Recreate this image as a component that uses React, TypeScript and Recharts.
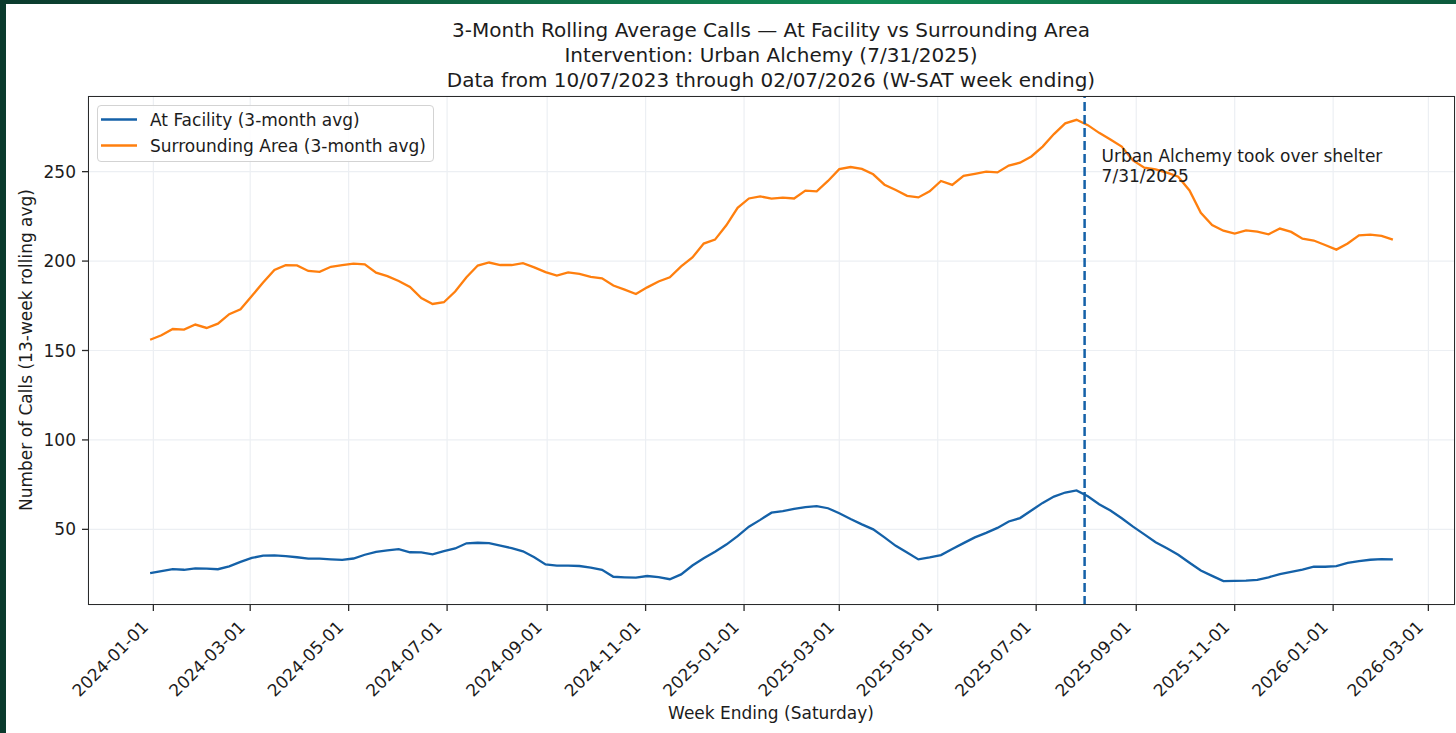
import { CartesianGrid, Line, LineChart, ReferenceLine, XAxis, YAxis } from "recharts";

// weekly 13-week rolling averages, week ending Saturday, first full window 2023-12-30
const firstWeekEnding = "2023-12-30";

const atFacility = [
  25.5, 26.7, 27.8, 27.4, 28.2, 28.0, 27.7, 29.3, 31.8, 34.0,
  35.3, 35.5, 35.0, 34.4, 33.6, 33.6, 33.2, 32.9, 33.7, 35.8,
  37.4, 38.2, 38.9, 37.2, 37.1, 36.0, 37.8, 39.3, 42.2, 42.5,
  42.3, 40.9, 39.5, 37.7, 34.4, 30.4, 29.7, 29.7, 29.5, 28.6,
  27.4, 23.5, 23.2, 23.0, 23.9, 23.3, 22.1, 24.8, 29.8, 33.8,
  37.5, 41.5, 46.2, 51.5, 55.3, 59.3, 60.2, 61.4, 62.4, 63.0,
  61.8, 59.0, 55.8, 52.8, 50.0, 45.5, 40.8, 37.0, 33.2, 34.3,
  35.6, 39.0, 42.3, 45.5, 48.0, 50.8, 54.4, 56.3, 60.5, 64.8,
  68.3, 70.6, 71.8, 68.5, 64.0, 60.5, 56.2, 51.5, 47.2, 42.8,
  39.4, 35.8, 31.3, 27.0, 24.0, 21.1, 21.2, 21.3, 21.8, 23.2,
  25.0, 26.2, 27.5, 29.1, 29.1, 29.4, 31.2, 32.2, 33.0, 33.3,
  33.2,
];

const surrounding = [
  156.0, 158.5, 162.0, 161.7, 164.5, 162.6, 165.0, 170.3, 173.0, 180.5,
  188.0, 195.0, 197.7, 197.6, 194.5, 194.0, 196.8, 197.7, 198.6, 198.2,
  193.5, 191.6, 188.9, 185.5, 179.3, 176.0, 177.0, 183.0, 191.0, 197.5,
  199.2, 197.8, 197.8, 198.8, 196.5, 193.8, 191.9, 193.7, 192.9, 191.2,
  190.4, 186.3, 184.0, 181.6, 185.3, 188.6, 190.9, 197.0, 202.0, 209.8,
  212.0, 220.0, 229.8, 235.0, 236.2, 234.9, 235.5, 235.0, 239.4, 239.0,
  244.8, 251.4, 252.6, 251.5, 248.5, 242.7, 239.7, 236.5, 235.6, 239.0,
  244.8, 242.6, 247.6, 248.8, 250.0, 249.6, 253.4, 255.0, 258.5, 264.0,
  271.0, 277.0, 279.0, 276.0, 271.7, 268.0, 264.0, 256.3, 252.2, 251.3,
  249.5, 247.2, 239.5, 227.0, 220.2, 217.0, 215.4, 217.2, 216.5, 215.0,
  218.2, 216.3, 212.5, 211.5, 209.0, 206.4, 209.8, 214.4, 214.8, 214.1,
  212.0,
];

const xTickLabels = [
  "2024-01-01", "2024-03-01", "2024-05-01", "2024-07-01", "2024-09-01",
  "2024-11-01", "2025-01-01", "2025-03-01", "2025-05-01", "2025-07-01",
  "2025-09-01", "2025-11-01", "2026-01-01", "2026-03-01",
];
const yTicks = [50, 100, 150, 200, 250];
const interventionDate = "2025-07-31";

const DAY = 86400000;
const toTime = (s: string) => Date.parse(s + "T00:00:00Z");
const fmtDate = (t: number) => new Date(t).toISOString().slice(0, 10);

const start = toTime(firstWeekEnding);
const rows = atFacility.map((v, i) => ({
  t: start + i * 7 * DAY,
  facility: v,
  area: surrounding[i],
}));

const xTicks = xTickLabels.map(toTime);
const origin = toTime("2024-01-01");
const xDomain = [origin - 40.5 * DAY, origin + 806.5 * DAY];

const BLUE = "#1461a8";
const ORANGE = "#ff7f0e";
const FONT = "'DejaVu Sans', sans-serif";
const INK = "#1c1c1c";

function DateTick(props: any) {
  const { x, y, payload } = props;
  const px = x - 4;
  const py = y + 11;
  return (
    <text
      x={px}
      y={py}
      transform={`rotate(-45 ${px} ${py})`}
      textAnchor="end"
      fontFamily={FONT}
      fontSize={17}
      fill={INK}
    >
      {fmtDate(payload.value)}
    </text>
  );
}

function InterventionLabel(props: any) {
  const { viewBox } = props;
  const x = viewBox.x + 17;
  const y = viewBox.y;
  return (
    <text fontFamily={FONT} fontSize={17} fill={INK}>
      <tspan x={x} y={y + 66}>Urban Alchemy took over shelter</tspan>
      <tspan x={x} y={y + 86}>7/31/2025</tspan>
    </text>
  );
}

export default function App() {
  return (
    <div
      style={{
        position: "fixed",
        left: 0,
        top: 0,
        width: 1456,
        height: 733,
        background: "linear-gradient(90deg, #0b3a2d 0%, #0f6a45 35%, #118a55 60%, #0c5a3c 100%)",
        overflow: "hidden",
      }}
    >
      <div style={{ position: "absolute", left: 6, top: 4, right: 0, bottom: 0, background: "#ffffff" }} />
      <div style={{ position: "absolute", left: 0, top: 0 }}>
        <LineChart width={1456} height={733} data={rows} margin={{ top: 96, right: 1, bottom: 0, left: 0 }}>
          <CartesianGrid stroke="#eceff3" strokeWidth={1.2} />
          <XAxis
            dataKey="t"
            type="number"
            domain={xDomain}
            ticks={xTicks}
            interval={0}
            allowDataOverflow
            height={128}
            tickSize={6}
            tickMargin={6}
            tick={<DateTick />}
            stroke="#2a2a2a"
            tickLine={{ stroke: "#2a2a2a", strokeWidth: 1.3 }}
            axisLine={false}
          />
          <YAxis
            type="number"
            domain={[7.7, 292.3]}
            ticks={yTicks}
            interval={0}
            allowDataOverflow
            width={88}
            tickSize={6}
            tickMargin={6}
            axisLine={false}
            tickLine={{ stroke: "#2a2a2a", strokeWidth: 1.3 }}
            tick={{ fontFamily: FONT, fontSize: 17, fill: INK }}
          />
          <Line
            type="linear"
            dataKey="facility"
            stroke={BLUE}
            strokeWidth={2.3}
            dot={false}
            isAnimationActive={false}
          />
          <Line
            type="linear"
            dataKey="area"
            stroke={ORANGE}
            strokeWidth={2.3}
            dot={false}
            isAnimationActive={false}
          />
          <ReferenceLine
            x={toTime(interventionDate)}
            stroke={BLUE}
            strokeWidth={2.5}
            strokeDasharray="9 4"
            label={<InterventionLabel />}
          />
        </LineChart>
      </div>
      {/* axes frame */}
      <div
        style={{
          position: "absolute",
          left: 87.5,
          top: 95.5,
          width: 1367,
          height: 509,
          border: "1.3px solid #2a2a2a",
          boxSizing: "border-box",
          pointerEvents: "none",
        }}
      />
      {/* legend */}
      <div
        style={{
          position: "absolute",
          left: 97,
          top: 105,
          width: 337,
          height: 57,
          border: "1px solid #d3d3d3",
          borderRadius: 4,
          background: "rgba(255,255,255,0.85)",
          boxSizing: "border-box",
        }}
      />
      <svg
        width={1456}
        height={733}
        style={{ position: "absolute", left: 0, top: 0, pointerEvents: "none" }}
        fontFamily={FONT}
        fill={INK}
      >
        <line x1={101} x2={137} y1={119.5} y2={119.5} stroke={BLUE} strokeWidth={2.5} />
        <line x1={101} x2={137} y1={145.5} y2={145.5} stroke={ORANGE} strokeWidth={2.5} />
        <text x={150} y={125.5} fontSize={17}>At Facility (3-month avg)</text>
        <text x={150} y={151.5} fontSize={17}>Surrounding Area (3-month avg)</text>

        <text x={771} y={37} fontSize={20} textAnchor="middle">
          3-Month Rolling Average Calls — At Facility vs Surrounding Area
        </text>
        <text x={771} y={62} fontSize={20} textAnchor="middle">
          Intervention: Urban Alchemy (7/31/2025)
        </text>
        <text x={771} y={86.5} fontSize={20} textAnchor="middle">
          Data from 10/07/2023 through 02/07/2026 (W-SAT week ending)
        </text>

        <text x={771} y={719} fontSize={17} textAnchor="middle">
          Week Ending (Saturday)
        </text>
        <text
          x={32}
          y={350}
          fontSize={17}
          textAnchor="middle"
          transform="rotate(-90 32 350)"
        >
          Number of Calls (13-week rolling avg)
        </text>
      </svg>
    </div>
  );
}
